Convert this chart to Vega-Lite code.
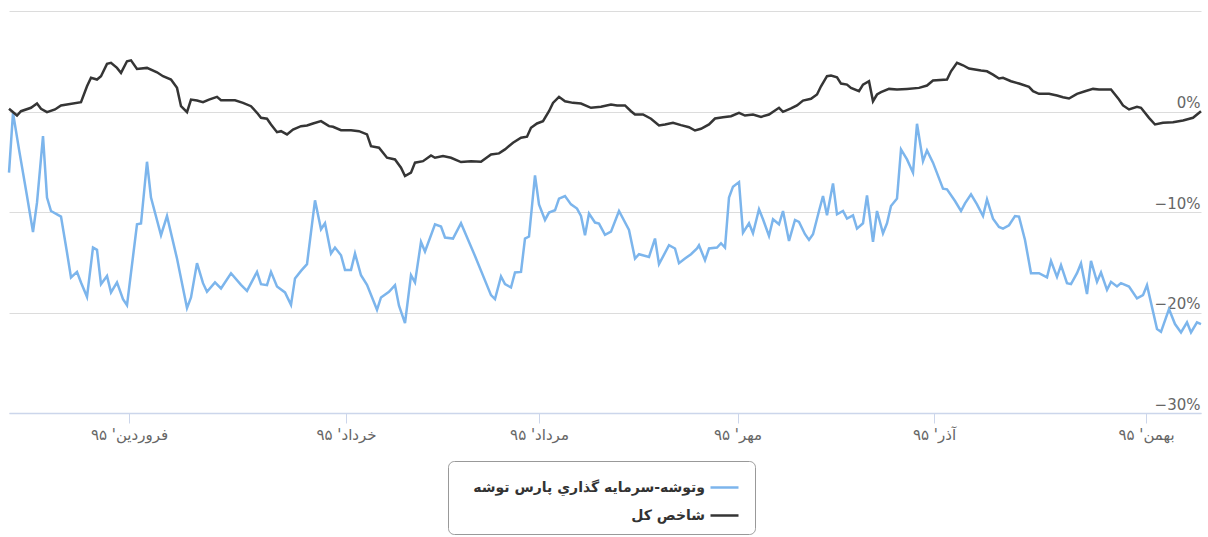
{
  "$schema": "https://vega.github.io/schema/vega-lite/v6.json",
  "width": 1192,
  "height": 402,
  "autosize": {"type": "none"},
  "padding": {"left": 9, "top": 11, "right": 7, "bottom": 124},
  "background": "white",
  "config": {
    "view": {"stroke": null},
    "font": "DejaVu Sans"
  },
  "datasets": {
    "index": [
      {"n":0,"v":0.27},{"n":4,"v":-0.40},{"n":6,"v":0.03},{"n":11,"v":0.37},{"n":14,"v":0.79},{"n":16,"v":0.27},{"n":19,"v":-0.07},{"n":23,"v":0.20},{"n":26,"v":0.60},{"n":36,"v":0.92},
      {"n":39,"v":2.51},{"n":41,"v":3.35},{"n":44,"v":3.18},{"n":46,"v":3.51},{"n":49,"v":4.74},{"n":51,"v":4.84},{"n":54,"v":4.34},{"n":56,"v":3.84},{"n":59,"v":5.00},{"n":61,"v":5.09},
      {"n":64,"v":4.24},{"n":69,"v":4.34},{"n":74,"v":3.90},{"n":77,"v":3.51},{"n":81,"v":3.18},{"n":84,"v":2.35},{"n":86,"v":0.53},{"n":89,"v":-0.07},{"n":91,"v":1.19},{"n":94,"v":1.09},
      {"n":97,"v":0.92},{"n":100,"v":1.19},{"n":104,"v":1.46},{"n":106,"v":1.12},{"n":113,"v":1.12},{"n":117,"v":0.86},{"n":121,"v":0.53},{"n":124,"v":-0.13},{"n":126,"v":-0.63},{"n":129,"v":-0.72},
      {"n":131,"v":-1.29},{"n":134,"v":-2.06},{"n":136,"v":-1.96},{"n":139,"v":-2.28},{"n":142,"v":-1.79},{"n":146,"v":-1.46},{"n":149,"v":-1.39},{"n":152,"v":-1.19},{"n":156,"v":-0.96},{"n":160,"v":-1.46},
      {"n":162,"v":-1.52},{"n":166,"v":-1.86},{"n":171,"v":-1.86},{"n":175,"v":-1.96},{"n":179,"v":-2.28},{"n":181,"v":-3.45},{"n":185,"v":-3.60},{"n":189,"v":-4.60},{"n":193,"v":-4.77},{"n":196,"v":-5.59},
      {"n":198,"v":-6.43},{"n":201,"v":-6.09},{"n":203,"v":-5.09},{"n":207,"v":-4.94},{"n":211,"v":-4.37},{"n":213,"v":-4.60},{"n":217,"v":-4.44},{"n":221,"v":-4.60},{"n":226,"v":-5.03},{"n":231,"v":-4.94},
      {"n":236,"v":-5.00},{"n":241,"v":-4.27},{"n":245,"v":-4.17},{"n":248,"v":-3.77},{"n":252,"v":-3.11},{"n":256,"v":-2.61},{"n":259,"v":-2.51},{"n":261,"v":-1.62},{"n":264,"v":-1.19},{"n":267,"v":-0.96},
      {"n":270,"v":0.03},{"n":272,"v":0.86},{"n":275,"v":1.46},{"n":278,"v":1.02},{"n":282,"v":0.86},{"n":286,"v":0.79},{"n":291,"v":0.37},{"n":296,"v":0.47},{"n":301,"v":0.70},{"n":304,"v":0.60},
      {"n":308,"v":0.60},{"n":311,"v":0.03},{"n":313,"v":-0.30},{"n":317,"v":-0.30},{"n":321,"v":-0.72},{"n":325,"v":-1.39},{"n":328,"v":-1.29},{"n":332,"v":-1.12},{"n":336,"v":-1.36},{"n":340,"v":-1.56},
      {"n":343,"v":-1.89},{"n":346,"v":-1.72},{"n":350,"v":-1.29},{"n":353,"v":-0.70},{"n":357,"v":-0.57},{"n":361,"v":-0.47},{"n":365,"v":-0.13},{"n":368,"v":-0.40},{"n":372,"v":-0.30},{"n":376,"v":-0.53},
      {"n":380,"v":-0.30},{"n":385,"v":0.37},{"n":387,"v":-0.03},{"n":391,"v":0.30},{"n":394,"v":0.60},{"n":397,"v":1.09},{"n":401,"v":1.26},{"n":404,"v":1.69},{"n":406,"v":2.51},{"n":409,"v":3.51},
      {"n":411,"v":3.57},{"n":414,"v":3.41},{"n":416,"v":2.78},{"n":419,"v":2.68},{"n":421,"v":2.35},{"n":425,"v":2.02},{"n":427,"v":2.68},{"n":430,"v":3.01},{"n":432,"v":1.02},{"n":434,"v":1.69},
      {"n":436,"v":1.92},{"n":440,"v":2.25},{"n":444,"v":2.18},{"n":449,"v":2.25},{"n":455,"v":2.35},{"n":459,"v":2.58},{"n":462,"v":3.08},{"n":469,"v":3.18},{"n":471,"v":4.00},{"n":474,"v":4.84},
      {"n":477,"v":4.60},{"n":480,"v":4.27},{"n":486,"v":4.07},{"n":489,"v":4.00},{"n":492,"v":3.67},{"n":495,"v":3.28},{"n":497,"v":3.35},{"n":501,"v":3.01},{"n":505,"v":2.78},{"n":510,"v":2.45},
      {"n":512,"v":2.02},{"n":515,"v":1.76},{"n":520,"v":1.76},{"n":524,"v":1.59},{"n":527,"v":1.42},{"n":530,"v":1.29},{"n":534,"v":1.76},{"n":538,"v":2.02},{"n":542,"v":2.25},{"n":545,"v":2.18},
      {"n":551,"v":2.18},{"n":555,"v":1.19},{"n":557,"v":0.60},{"n":560,"v":0.20},{"n":564,"v":0.47},{"n":566,"v":0.37},{"n":570,"v":-0.63},{"n":573,"v":-1.29},{"n":577,"v":-1.12},{"n":582,"v":-1.06},
      {"n":587,"v":-0.89},{"n":592,"v":-0.63},{"n":596,"v":0.03}
    ],
    "fund": [
      {"n":0,"v":-6.09},{"n":2,"v":-0.13},{"n":5,"v":-3.77},{"n":9,"v":-8.41},{"n":12,"v":-11.99},{"n":14,"v":-9.07},{"n":17,"v":-2.45},{"n":19,"v":-8.57},{"n":21,"v":-9.90},{"n":24,"v":-10.23},
      {"n":26,"v":-10.46},{"n":29,"v":-14.03},{"n":31,"v":-16.51},{"n":34,"v":-15.96},{"n":36,"v":-17.01},{"n":39,"v":-18.44},{"n":42,"v":-13.54},{"n":44,"v":-13.77},{"n":46,"v":-17.18},{"n":49,"v":-16.36},
      {"n":51,"v":-18.00},{"n":54,"v":-17.01},{"n":57,"v":-18.67},{"n":59,"v":-19.27},{"n":64,"v":-11.22},{"n":66,"v":-11.15},{"n":69,"v":-5.00},{"n":71,"v":-8.57},{"n":76,"v":-12.31},{"n":79,"v":-10.40},
      {"n":84,"v":-14.63},{"n":89,"v":-19.56},{"n":91,"v":-18.50},{"n":94,"v":-15.09},{"n":97,"v":-17.08},{"n":99,"v":-17.94},{"n":103,"v":-17.01},{"n":106,"v":-17.61},{"n":111,"v":-16.09},{"n":116,"v":-17.25},
      {"n":119,"v":-17.85},{"n":124,"v":-15.96},{"n":126,"v":-17.18},{"n":129,"v":-17.28},{"n":131,"v":-15.96},{"n":134,"v":-17.41},{"n":138,"v":-18.00},{"n":141,"v":-19.24},{"n":143,"v":-16.61},{"n":146,"v":-15.86},
      {"n":149,"v":-15.19},{"n":153,"v":-8.84},{"n":156,"v":-11.72},{"n":158,"v":-11.12},{"n":161,"v":-14.13},{"n":163,"v":-13.54},{"n":166,"v":-14.30},{"n":168,"v":-15.76},{"n":171,"v":-15.76},{"n":173,"v":-14.13},
      {"n":176,"v":-16.29},{"n":179,"v":-17.25},{"n":184,"v":-19.73},{"n":186,"v":-18.50},{"n":190,"v":-17.94},{"n":193,"v":-17.28},{"n":195,"v":-19.33},{"n":198,"v":-21.05},{"n":201,"v":-16.29},{"n":203,"v":-17.01},
      {"n":206,"v":-12.98},{"n":208,"v":-13.93},{"n":213,"v":-11.22},{"n":216,"v":-11.45},{"n":218,"v":-12.54},{"n":222,"v":-12.64},{"n":226,"v":-11.12},{"n":233,"v":-14.37},{"n":241,"v":-18.27},{"n":243,"v":-18.67},
      {"n":246,"v":-16.42},{"n":248,"v":-17.18},{"n":251,"v":-17.51},{"n":253,"v":-16.02},{"n":256,"v":-15.96},{"n":258,"v":-12.64},{"n":260,"v":-12.44},{"n":263,"v":-6.36},{"n":265,"v":-9.24},{"n":268,"v":-10.79},
      {"n":270,"v":-10.06},{"n":273,"v":-9.83},{"n":275,"v":-8.67},{"n":278,"v":-8.41},{"n":281,"v":-9.24},{"n":284,"v":-9.66},{"n":286,"v":-10.40},{"n":288,"v":-12.31},{"n":290,"v":-10.16},{"n":293,"v":-11.05},
      {"n":295,"v":-11.15},{"n":298,"v":-12.28},{"n":301,"v":-11.95},{"n":305,"v":-9.90},{"n":310,"v":-11.79},{"n":313,"v":-14.63},{"n":315,"v":-14.20},{"n":320,"v":-14.47},{"n":323,"v":-12.64},{"n":325,"v":-15.19},
      {"n":330,"v":-13.31},{"n":333,"v":-13.63},{"n":335,"v":-15.09},{"n":338,"v":-14.63},{"n":341,"v":-14.20},{"n":344,"v":-13.63},{"n":345,"v":-13.31},{"n":348,"v":-14.80},{"n":350,"v":-13.63},{"n":354,"v":-13.54},
      {"n":356,"v":-13.11},{"n":358,"v":-13.54},{"n":360,"v":-8.57},{"n":362,"v":-7.48},{"n":365,"v":-7.02},{"n":367,"v":-12.05},{"n":370,"v":-11.12},{"n":372,"v":-12.12},{"n":375,"v":-9.73},{"n":377,"v":-10.72},
      {"n":380,"v":-12.38},{"n":382,"v":-10.72},{"n":385,"v":-11.22},{"n":387,"v":-9.90},{"n":390,"v":-12.88},{"n":393,"v":-10.79},{"n":395,"v":-10.99},{"n":398,"v":-12.21},{"n":400,"v":-12.78},{"n":402,"v":-12.21},
      {"n":405,"v":-9.90},{"n":407,"v":-8.41},{"n":409,"v":-10.33},{"n":412,"v":-7.15},{"n":414,"v":-10.23},{"n":417,"v":-9.90},{"n":419,"v":-10.66},{"n":422,"v":-10.33},{"n":424,"v":-11.65},{"n":427,"v":-11.12},
      {"n":429,"v":-8.34},{"n":432,"v":-12.98},{"n":434,"v":-9.90},{"n":437,"v":-12.12},{"n":439,"v":-11.12},{"n":441,"v":-9.40},{"n":444,"v":-8.67},{"n":446,"v":-3.77},{"n":449,"v":-4.77},{"n":452,"v":-6.09},
      {"n":454,"v":-1.22},{"n":457,"v":-4.94},{"n":459,"v":-3.87},{"n":462,"v":-5.09},{"n":467,"v":-7.68},{"n":469,"v":-7.75},{"n":473,"v":-8.91},{"n":476,"v":-9.90},{"n":478,"v":-9.14},{"n":481,"v":-8.24},
      {"n":484,"v":-9.24},{"n":487,"v":-10.40},{"n":489,"v":-8.74},{"n":492,"v":-10.66},{"n":495,"v":-11.49},{"n":497,"v":-11.65},{"n":500,"v":-11.32},{"n":503,"v":-10.40},{"n":505,"v":-10.46},{"n":508,"v":-12.78},
      {"n":511,"v":-16.09},{"n":515,"v":-16.09},{"n":519,"v":-16.51},{"n":521,"v":-14.87},{"n":524,"v":-16.45},{"n":526,"v":-15.29},{"n":529,"v":-17.08},{"n":531,"v":-17.18},{"n":534,"v":-16.09},{"n":536,"v":-15.12},
      {"n":539,"v":-18.17},{"n":541,"v":-14.87},{"n":544,"v":-16.95},{"n":546,"v":-16.02},{"n":549,"v":-17.75},{"n":551,"v":-16.95},{"n":554,"v":-17.41},{"n":556,"v":-17.08},{"n":560,"v":-17.41},{"n":564,"v":-18.60},
      {"n":567,"v":-18.27},{"n":569,"v":-17.28},{"n":574,"v":-21.65},{"n":576,"v":-21.92},{"n":580,"v":-19.66},{"n":583,"v":-21.15},{"n":586,"v":-21.98},{"n":589,"v":-20.98},{"n":591,"v":-21.98},{"n":594,"v":-20.98},
      {"n":596,"v":-21.15}
    ]
  },
  "encoding": {
    "x": {
      "field": "n", "type": "quantitative",
      "scale": {"domain": [0, 596], "nice": false, "zero": false},
      "axis": {
        "title": null, "grid": false,
        "values": [60, 168.5, 265, 364.25, 462.5, 568.5],
        "labelExpr": "datum.value < 100 ? 'فروردین\\' ۹۵' : datum.value < 200 ? 'خرداد\\' ۹۵' : datum.value < 300 ? 'مرداد\\' ۹۵' : datum.value < 400 ? 'مهر\\' ۹۵' : datum.value < 500 ? 'آذر\\' ۹۵' : 'بهمن\\' ۹۵'",
        "domainColor": "#ccd6eb", "domainWidth": 1.5,
        "tickColor": "#ccd6eb", "tickSize": 10, "tickWidth": 1,
        "labelColor": "#666666", "labelFontSize": 15, "labelFont": "DejaVu Sans",
        "labelPadding": 4, "labelFlush": false
      }
    },
    "y": {
      "field": "v", "type": "quantitative",
      "scale": {"domain": [-30, 10], "nice": false, "zero": false},
      "axis": {
        "title": null, "orient": "right",
        "values": [-30, -20, -10, 0, 10],
        "labelExpr": "datum.value == 10 ? '' : format(datum.value, 'd') + '%'",
        "domain": false, "ticks": false, "tickSize": 0,
        "gridColor": "#dcdcdc", "gridWidth": 1,
        "labelAlign": "right", "labelBaseline": "alphabetic",
        "labelPadding": -1, "labelOffset": -4,
        "labelColor": "#666666", "labelFontSize": 15, "labelFont": "DejaVu Sans"
      }
    }
  },
  "layer": [
    {
      "mark": {"type": "rule", "color": "#a8a8a8", "strokeWidth": 2},
      "encoding": {"y": {"datum": 0}, "x": null}
    },
    {
      "data": {"name": "fund"},
      "mark": {"type": "line", "strokeWidth": 2.5, "interpolate": "linear"},
      "encoding": {
        "color": {
          "datum": "وتوشه-سرمایه گذاري پارس توشه",
          "type": "nominal",
          "scale": {"domain": ["وتوشه-سرمایه گذاري پارس توشه", "شاخص کل"], "range": ["#7cb5ec", "#353535"]},
          "legend": {
            "title": null, "orient": "none", "legendX": 439, "legendY": 450,
            "direction": "vertical",
            "symbolType": "stroke", "symbolSize": 784, "symbolStrokeWidth": 2.5,
            "symbolOffset": 250,
            "labelAlign": "right", "labelOffset": -35,
            "labelFont": "DejaVu Sans", "labelFontSize": 14, "labelFontWeight": "bold", "labelColor": "#333333",
            "labelLimit": 400,
            "padding": 11, "rowPadding": 5,
            "strokeColor": "#999999", "cornerRadius": 6, "fillColor": "white"
          }
        }
      }
    },
    {
      "data": {"name": "index"},
      "mark": {"type": "line", "strokeWidth": 2.5, "interpolate": "linear"},
      "encoding": {
        "color": {"datum": "شاخص کل", "type": "nominal"}
      }
    }
  ]
}
